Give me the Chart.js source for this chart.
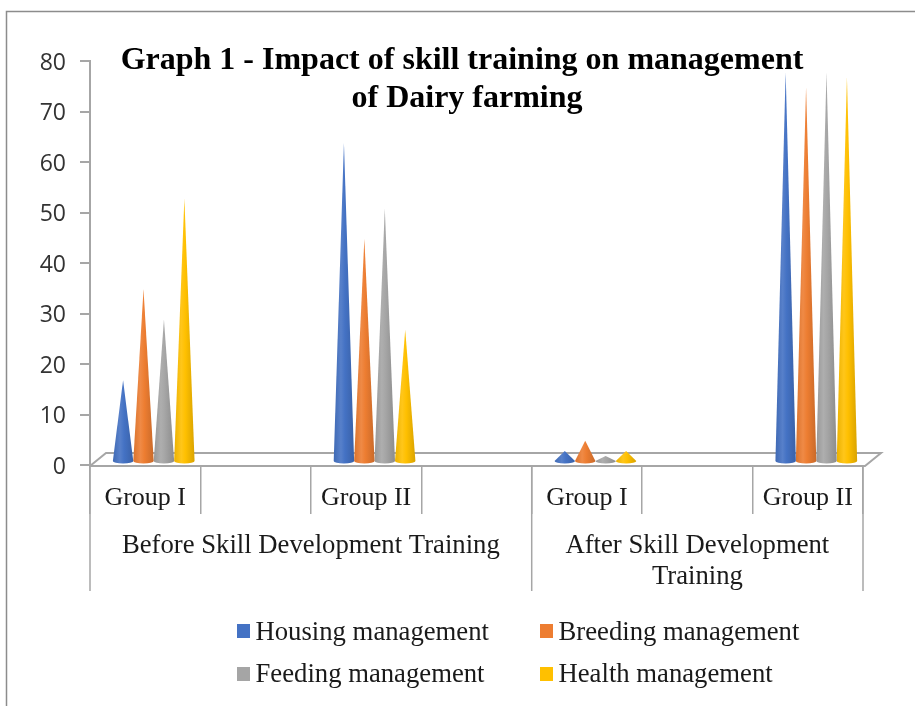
<!DOCTYPE html>
<html>
<head>
<meta charset="utf-8">
<style>
  html, body { margin: 0; padding: 0; background: #fff; }
  #wrap { width: 915px; height: 706px; }
  #chart { filter: blur(0.4px); }
</style>
<script src="https://cdn.jsdelivr.net/npm/chart.js@4"></script>
</head>
<body>
<div id="wrap"><canvas id="chart" width="915" height="706"></canvas></div>
<script>
const categories = ['Group I', '', 'Group II', '', 'Group I', '', 'Group II'];
const housing = [16, null, 63, null, 2, null, 77];
const breeding = [34, null, 44, null, 4, null, 74];
const feeding = [28, null, 50, null, 1, null, 77];
const health = [52, null, 26, null, 2, null, 76];
const yTicks = [0, 10, 20, 30, 40, 50, 60, 70, 80];
const seriesNames = ['Housing management', 'Breeding management', 'Feeding management', 'Health management'];
const seriesColors = ['#4472C4', '#ED7D31', '#A5A5A5', '#FFC000'];
const groupLabels = [['Before Skill Development Training'], ['After Skill Development', 'Training']];
const titleLines = ['Graph 1 - Impact of skill training on management', 'of Dairy farming'];

const AXIS_GREY = '#a6a6a6';
const SERIF = '"Liberation Serif", "Times New Roman", serif';

function shade(hex, amt) {
    const n = parseInt(hex.slice(1), 16);
    const ch = s => {
        const v = (n >> s) & 255;
        return Math.round(amt < 0 ? v * (1 + amt) : v + (255 - v) * amt);
    };
    return `rgb(${ch(16)},${ch(8)},${ch(0)})`;
}

// the floor of the fake 3d box, sits behind the cones
const floorPlugin = {
    id: 'floor',
    beforeDatasetsDraw(chart) {
        const { ctx, chartArea: a } = chart;
        ctx.save();
        ctx.strokeStyle = AXIS_GREY;
        ctx.lineWidth = 2;
        ctx.beginPath();
        ctx.moveTo(a.left, a.bottom + 1);
        ctx.lineTo(a.left + 16, a.bottom - 12);
        ctx.lineTo(a.right + 18, a.bottom - 12);
        ctx.lineTo(a.right + 2, a.bottom + 1);
        ctx.lineTo(a.left, a.bottom + 1);
        ctx.stroke();
        ctx.restore();
    }
};

// bars are drawn as cones, from the bar element geometry
const conePlugin = {
    id: 'cones',
    beforeDatasetDraw(chart, args) {
        const { ctx } = chart;
        const color = seriesColors[args.index];
        const values = chart.data.datasets[args.index].data;
        const zero = chart.scales.y.getPixelForValue(0);
        args.meta.data.forEach((bar, i) => {
            if (values[i] === null) return;
            const x = bar.x + 8.5;
            const halfW = bar.width / 2;
            const base = zero - 4;
            const tip = bar.y - 4;
            const g = ctx.createLinearGradient(x - halfW, 0, x + halfW, 0);
            g.addColorStop(0, shade(color, -0.08));
            g.addColorStop(0.35, shade(color, 0.1));
            g.addColorStop(0.55, color);
            g.addColorStop(1, shade(color, -0.15));
            ctx.save();
            ctx.fillStyle = g;
            ctx.beginPath();
            ctx.moveTo(x, tip);
            ctx.lineTo(x + halfW, base);
            ctx.ellipse(x, base, halfW, 2.5, 0, 0, Math.PI);
            ctx.closePath();
            ctx.fill();
            ctx.restore();
        });
        return false;
    }
};

// frame, title, second level of the category axis, legend
const annotatePlugin = {
    id: 'annotate',
    afterDraw(chart) {
        const { ctx, chartArea: a, scales } = chart;
        const edge = i => scales.x.getPixelForValue(i) - (scales.x.getPixelForValue(1) - scales.x.getPixelForValue(0)) / 2;
        ctx.save();

        ctx.strokeStyle = '#8c8c8c';
        ctx.lineWidth = 1.5;
        ctx.beginPath();
        ctx.moveTo(6.5, 706);
        ctx.lineTo(6.5, 11.5);
        ctx.lineTo(915, 11.5);
        ctx.stroke();

        ctx.textAlign = 'center';
        ctx.textBaseline = 'alphabetic';
        ctx.fillStyle = '#000';
        ctx.font = 'bold 32px ' + SERIF;
        ctx.fillText(titleLines[0], 462, 69);
        ctx.fillText(titleLines[1], 467, 107);

        ctx.strokeStyle = AXIS_GREY;
        ctx.lineWidth = 1.5;
        [0, 4, 7].forEach(i => {
            ctx.beginPath();
            ctx.moveTo(edge(i), a.bottom + 2);
            ctx.lineTo(edge(i), 591);
            ctx.stroke();
        });

        ctx.fillStyle = '#1a1a1a';
        ctx.font = '26.7px ' + SERIF;
        ctx.fillText(groupLabels[0][0], (edge(0) + edge(4)) / 2, 553);
        ctx.fillText(groupLabels[1][0], (edge(4) + edge(7)) / 2, 553);
        ctx.fillText(groupLabels[1][1], (edge(4) + edge(7)) / 2, 584);

        const swatchX = [237, 540];
        const swatchY = [624, 667];
        const textX = [255.5, 558.5];
        const textY = [640, 682];
        ctx.textAlign = 'left';
        seriesNames.forEach((name, i) => {
            const col = i % 2;
            const row = Math.floor(i / 2);
            ctx.fillStyle = seriesColors[i];
            ctx.fillRect(swatchX[col], swatchY[row], 13, 14);
            ctx.fillStyle = '#1a1a1a';
            ctx.fillText(name, textX[col], textY[row]);
        });
        ctx.restore();
    }
};

new Chart(document.getElementById('chart'), {
    type: 'bar',
    data: {
        labels: categories,
        datasets: seriesNames.map((name, i) => ({
            label: name,
            data: [housing, breeding, feeding, health][i],
            backgroundColor: seriesColors[i],
        })),
    },
    options: {
        responsive: false,
        animation: false,
        layout: { padding: { top: 61, right: 52, bottom: 0, left: 0 } },
        datasets: { bar: { barPercentage: 1, categoryPercentage: 0.74 } },
        plugins: {
            legend: { display: false },
            title: { display: false },
            tooltip: { enabled: false },
        },
        scales: {
            x: {
                grid: { offset: true, drawOnChartArea: false, color: AXIS_GREY, lineWidth: 1.5, tickLength: 49 },
                border: { display: false },
                ticks: {
                    autoSkip: false,
                    maxRotation: 0,
                    padding: -31,
                    color: '#1a1a1a',
                    font: { family: SERIF, size: 26 },
                },
                afterFit(scale) {
                    scale.height = 241;
                    scale.paddingLeft = 0;
                    scale.paddingRight = 0;
                },
            },
            y: {
                min: 0,
                max: 80,
                afterBuildTicks(scale) {
                    scale.ticks = yTicks.map(value => ({ value }));
                },
                grid: { drawOnChartArea: false, color: AXIS_GREY, lineWidth: 2, tickLength: 10 },
                border: { color: AXIS_GREY, width: 2 },
                ticks: {
                    padding: 14,
                    labelOffset: 2,
                    color: '#333333',
                    font: { family: '"Open Sans", sans-serif', size: 23 },
                },
                afterFit(scale) {
                    scale.width = 90;
                    scale.paddingTop = 0;
                    scale.paddingBottom = 0;
                },
            },
        },
    },
    plugins: [floorPlugin, conePlugin, annotatePlugin],
});
</script>
</body>
</html>
